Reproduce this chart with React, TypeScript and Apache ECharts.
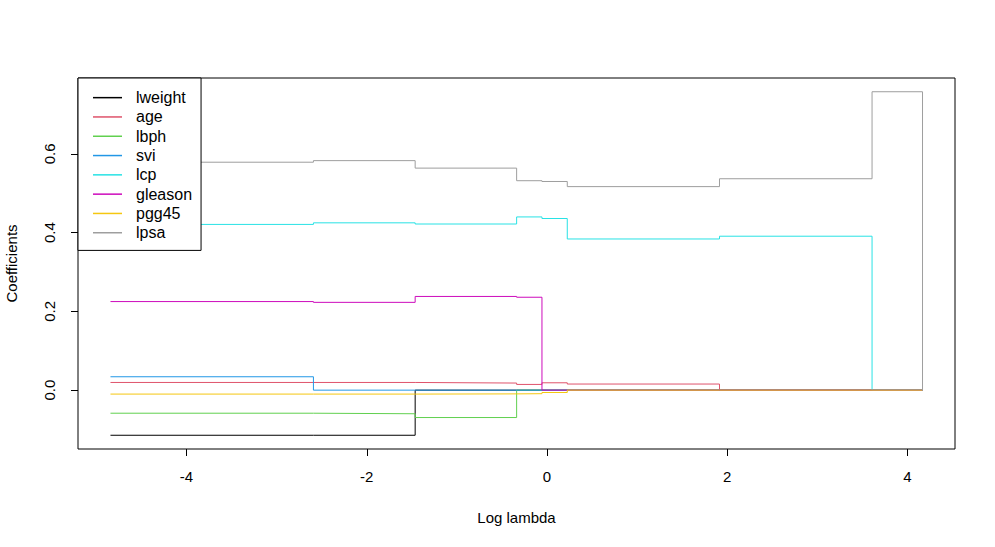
import React, { useEffect, useRef } from "react";
import * as echarts from "echarts";

const logLambda = [-4.844, -2.592, -1.463, -0.337, -0.056, 0.225, 1.914, 3.607, 4.167];
const seriesNames = ["lweight", "age", "lbph", "svi", "lcp", "gleason", "pgg45", "lpsa"];
const lweight = [-0.1146, -0.1146, 0, 0, 0, 0, 0, 0, 0];
const age = [0.0195, 0.0195, 0.018, 0.0145, 0.0187, 0.0155, 0, 0, 0];
const lbph = [-0.0586, -0.06, -0.0696, 0, 0, 0, 0, 0, 0];
const svi = [0.034, 0, 0, 0, 0, 0, 0, 0, 0];
const lcp = [0.421, 0.425, 0.422, 0.44, 0.436, 0.384, 0.391, 0, 0];
const gleason = [0.225, 0.223, 0.238, 0.236, 0, 0, 0, 0, 0];
const pgg45 = [-0.01, -0.01, -0.0095, -0.009, -0.006, 0, 0, 0, 0];
const lpsa = [0.579, 0.583, 0.564, 0.532, 0.53, 0.517, 0.537, 0.758, 0];
const xTicks = [-4, -2, 0, 2, 4];
const yTicks = [0, 0.2, 0.4, 0.6];

const colors = ["#000000", "#DF536B", "#61D04F", "#2297E6", "#28E2E5", "#CD0BBC", "#F5C710", "#9E9E9E"];
const FONT = "'Liberation Sans', Arial, Helvetica, sans-serif";

export default function App() {
  const ref = useRef<HTMLDivElement>(null);
  useEffect(() => {
    if (!ref.current) return;
    const chart = echarts.init(ref.current, null, { renderer: "svg" });
    const values = [lweight, age, lbph, svi, lcp, gleason, pgg45, lpsa];
    const xMin = logLambda[0], xMax = logLambda[logLambda.length - 1];
    const xPad = (xMax - xMin) * 0.04;
    const allY = values.flat();
    const yMinD = Math.min(...allY), yMaxD = Math.max(...allY);
    const yPad = (yMaxD - yMinD) * 0.04;
    chart.setOption({
      animation: false,
      backgroundColor: "#ffffff",
      textStyle: { fontFamily: FONT },
      grid: {
        left: 78,
        top: 78,
        width: 877,
        height: 371,
        containLabel: false,
        outerBoundsMode: "none",
        show: true,
        borderColor: "#000",
        borderWidth: 1,
        backgroundColor: "transparent",
      },
      legend: {
        orient: "vertical",
        left: 78,
        top: 78,
        data: seriesNames.map((n, i) => ({ name: n, icon: "rect", itemStyle: { color: colors[i] } })),
        backgroundColor: "#ffffff",
        borderColor: "#000",
        borderWidth: 1,
        borderRadius: 0,
        padding: [10, 9, 8, 15],
        itemWidth: 29,
        itemHeight: 1.5,
        itemGap: 0,
        textStyle: {
          fontSize: 16,
          lineHeight: 19.3,
          color: "#000",
          fontFamily: FONT,
          padding: [0, 0, 0, 9],
        },
        selectedMode: false,
      },
      xAxis: {
        type: "value",
        min: xMin - xPad,
        max: xMax + xPad,
        name: "Log lambda",
        nameLocation: "middle",
        nameGap: 61,
        nameTextStyle: { fontSize: 15, color: "#000", fontFamily: FONT },
        axisLine: { show: false, onZero: false },
        splitLine: { show: false },
        axisTick: { show: true, inside: false, length: 7, lineStyle: { color: "#000" }, customValues: xTicks },
        axisLabel: {
          fontSize: 15,
          color: "#000",
          margin: 20,
          fontFamily: FONT,
          customValues: xTicks,
          formatter: (v: number) => String(v),
        },
      },
      yAxis: {
        type: "value",
        min: yMinD - yPad,
        max: yMaxD + yPad,
        name: "Coefficients",
        nameLocation: "middle",
        nameGap: 59,
        nameRotate: 90,
        nameTextStyle: { fontSize: 15, color: "#000", fontFamily: FONT },
        axisLine: { show: false, onZero: false },
        splitLine: { show: false },
        axisTick: { show: true, inside: false, length: 7, lineStyle: { color: "#000" }, customValues: yTicks },
        axisLabel: {
          fontSize: 15,
          color: "#000",
          margin: 21,
          rotate: 90,
          fontFamily: FONT,
          customValues: yTicks,
          formatter: (v: number) => v.toFixed(1),
        },
      },
      series: seriesNames.map((name, i) => ({
        name,
        type: "line",
        step: "end",
        symbol: "none",
        showSymbol: false,
        color: colors[i],
        lineStyle: { width: 1, color: colors[i] },
        data: logLambda.map((x, j) => [x, values[i][j]]),
      })),
    });
    return () => chart.dispose();
  }, []);
  return <div ref={ref} style={{ width: 995, height: 547, position: "absolute", left: 0, top: 0 }} />;
}
